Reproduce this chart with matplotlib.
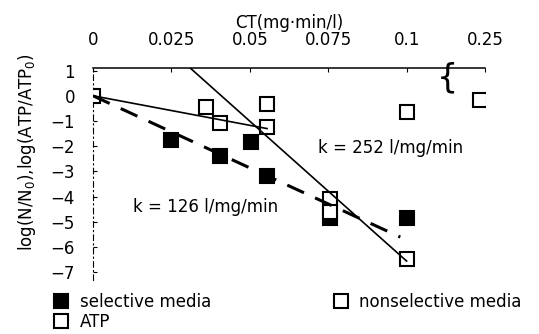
import numpy as np
import matplotlib
matplotlib.use("Agg")
import matplotlib.pyplot as plt

# CT values (mg*min/l) and log reductions
sel_ct = [0.025, 0.0405, 0.0505, 0.0555, 0.0755, 0.1]
sel_log = [-1.75, -2.38, -1.82, -3.17, -4.85, -4.83]

nonsel_ct = [0.0, 0.0405, 0.0555, 0.0755, 0.0755, 0.1]
nonsel_log = [0.0, -1.07, -1.25, -4.1, -4.6, -6.48]

atp_ct = [0.036, 0.0555, 0.1, 0.24]
atp_log = [-0.45, -0.34, -0.65, -0.16]

# fitted lines (end points)
fit_shallow_ct = [0.0, 0.0555]
fit_shallow_log = [0.0, -1.3]
fit_steep_ct = [0.031, 0.1]
fit_steep_log = [1.1, -6.55]
fit_dash_ct = [0.0, 0.098]
fit_dash_log = [0.0, -5.6]

xticks = [0, 0.025, 0.05, 0.075, 0.1, 0.25]
xtick_labels = ["0", "0.025", "0.05", "0.075", "0.1", "0.25"]
yticks = [1, 0, -1, -2, -3, -4, -5, -6, -7]


def fwd(x):
    x = np.asarray(x, dtype=float)
    return np.where(x <= 0.1, x, 0.1 + (x - 0.1) / 6.0)


def inv(y):
    y = np.asarray(y, dtype=float)
    return np.where(y <= 0.1, y, 0.1 + (y - 0.1) * 6.0)


def main():
    plt.rcParams["font.family"] = "DejaVu Sans"
    fig = plt.figure(figsize=(5.39, 3.34), dpi=100)
    ax = fig.add_axes([0.1725, 0.1617, 0.7273, 0.6347])
    ax.set_xscale("function", functions=(fwd, inv))
    ax.set_xlim(0, 0.25)
    ax.set_ylim(-7.3, 1.1)

    sq = dict(marker="s", markersize=10.5, linestyle="none", markeredgewidth=1.5,
              markeredgecolor="black")
    h_sel, = ax.plot(sel_ct, sel_log, markerfacecolor="black",
                     label="selective media", zorder=2, **sq)
    h_non, = ax.plot(nonsel_ct, nonsel_log, markerfacecolor="white",
                     label="nonselective media", zorder=3, **sq)
    h_atp, = ax.plot(atp_ct, atp_log, markerfacecolor="white", label="ATP",
                     zorder=3, **sq)

    ax.plot(fit_shallow_ct, fit_shallow_log, color="black", lw=1.2, zorder=4)
    ax.plot(fit_steep_ct, fit_steep_log, color="black", lw=1.2, zorder=4)
    ax.plot(fit_dash_ct, fit_dash_log, color="black", lw=2.2,
            linestyle=(0, (6, 4)), zorder=4)

    ax.text(0.574, 0.623, "k = 252 l/mg/min", transform=ax.transAxes,
            fontsize=12, va="center", ha="left")
    ax.text(0.102, 0.344, "k = 126 l/mg/min", transform=ax.transAxes,
            fontsize=12, va="center", ha="left")

    # axis break mark on the top axis
    ax.text(0.903, 0.955, "{", transform=ax.transAxes, fontsize=24,
            ha="center", va="center", clip_on=False)

    ax.xaxis.set_ticks_position("top")
    ax.xaxis.set_label_position("top")
    ax.set_xticks(xticks)
    ax.set_xticklabels(xtick_labels)
    ax.set_yticks(yticks)
    ax.minorticks_off()
    ax.tick_params(axis="x", direction="in", length=3, pad=14, labelsize=12)
    ax.tick_params(axis="y", direction="in", length=3, pad=13, labelsize=12)

    ax.spines["bottom"].set_visible(False)
    ax.spines["right"].set_visible(False)
    ax.spines["top"].set_linewidth(1.1)
    ax.spines["left"].set_linewidth(0.8)
    ax.spines["left"].set_linestyle((0, (5, 3, 1, 3)))

    ax.set_xlabel("CT(mg\u00b7min/l)", fontsize=12, labelpad=2)
    ax.set_ylabel(r"log(N/N$_0$),log(ATP/ATP$_0$)", fontsize=12)
    ax.yaxis.set_label_coords(-0.140, 0.604)

    ax.legend(handles=[h_sel, h_atp, h_non], ncol=2, loc="upper left",
              bbox_to_anchor=(0.0985, 0.123), bbox_transform=fig.transFigure,
              frameon=False, fontsize=12, handletextpad=0.6, columnspacing=7.3,
              labelspacing=0.1, borderpad=0, borderaxespad=0, handlelength=1.0)

    plt.savefig("out.png", dpi=100)


if __name__ == '__main__':
    main()
